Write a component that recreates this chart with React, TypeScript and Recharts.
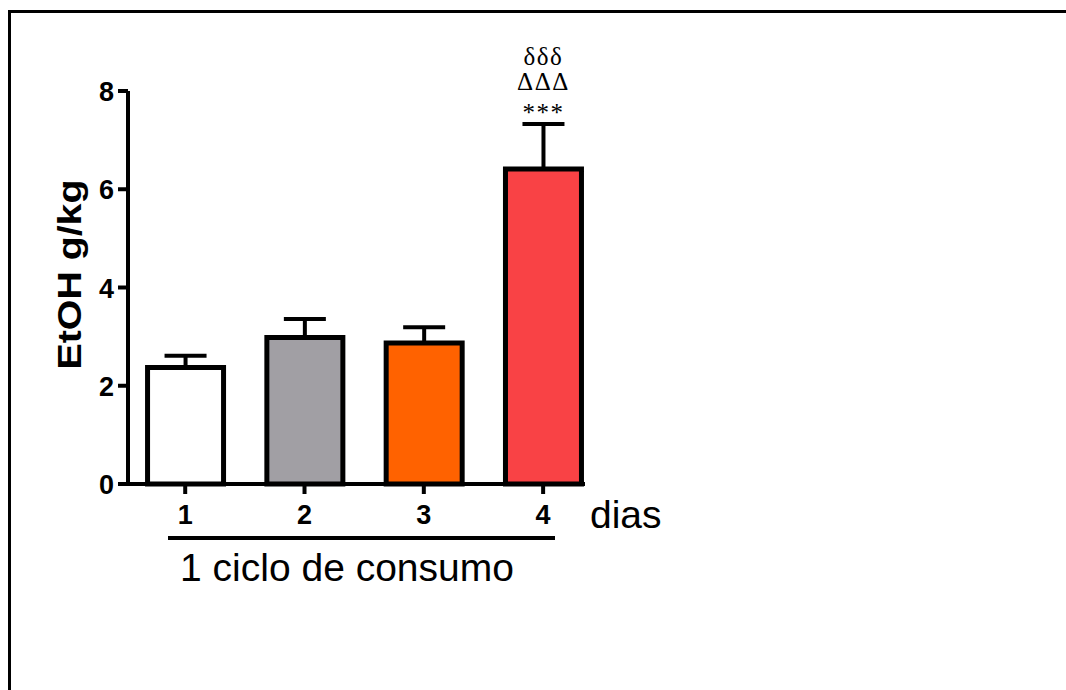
import { Bar, Cell, ComposedChart, ErrorBar, LabelList, XAxis, YAxis } from "recharts";

// Days of the drinking cycle and EtOH intake (mean, upper SEM)
const days = [1, 2, 3, 4];
const etohMean = [2.37, 2.98, 2.87, 6.41];
const etohSem = [0.24, 0.38, 0.32, 0.92];
const yTicks = [0, 2, 4, 6, 8];
// Significance marks stacked above each bar, bottom line first
const signif: string[][] = [[], [], [], ["***", "ΔΔΔ", "δδδ"]];

const BAR_COLORS = ["#ffffff", "#a19fa4", "#ff6200", "#f94245"];
const SIGNIF_GAP = [3, 34, 59]; // baseline distance above the SEM cap, per line
const SANS = "'Liberation Sans', Arial, sans-serif";
const SERIF = "'Liberation Serif', 'Times New Roman', serif";

const data = days.map((d, i) => ({
  day: d,
  etoh: etohMean[i],
  err: [0, etohSem[i]] as [number, number],
}));

/** Stars/deltas sit on top of the SEM cap. */
function SignifLabel(props: any) {
  const { x, y, width, height, value, index } = props;
  const lines = signif[index] ?? [];
  if (!lines.length || !value) return null;
  const pxPerUnit = height / value;
  const capY = y - etohSem[index] * pxPerUnit;
  const cx = x + width / 2;
  return (
    <g>
      {lines.map((t, k) => (
        <text
          key={k}
          x={cx}
          y={capY - SIGNIF_GAP[k]}
          textAnchor="middle"
          fontFamily={SERIF}
          fontSize={25}
          letterSpacing={1.5}
          fill="#000"
        >
          {t}
        </text>
      ))}
    </g>
  );
}

function XTick(p: any) {
  return (
    <text x={p.x} y={p.y} dy={19} textAnchor="middle" fontFamily={SANS} fontWeight={700} fontSize={27} fill="#000">
      {p.payload.value}
    </text>
  );
}

function YTick(p: any) {
  return (
    <text x={p.x} y={p.y} dy={10} textAnchor="end" fontFamily={SANS} fontWeight={700} fontSize={27} fill="#000">
      {p.payload.value}
    </text>
  );
}

export default function App() {
  return (
    <div style={{ position: "absolute", left: 0, top: 0, width: 1066, height: 690, background: "#fff" }}>
      <ComposedChart
        width={1066}
        height={690}
        data={data}
        margin={{ top: 91, right: 481, bottom: 176, left: 68 }}
      >
        <XAxis
          dataKey="day"
          type="number"
          domain={[0.5205, 4.351]}
          ticks={days}
          allowDataOverflow
          height={30}
          axisLine={{ stroke: "#000", strokeWidth: 4 }}
          tickLine={{ stroke: "#000", strokeWidth: 4 }}
          tickSize={10}
          tickMargin={11}
          tick={<XTick />}
        />
        <YAxis
          domain={[0, 8]}
          ticks={yTicks}
          width={60}
          axisLine={{ stroke: "#000", strokeWidth: 4 }}
          tickLine={{ stroke: "#000", strokeWidth: 4 }}
          tickSize={10}
          tickMargin={4}
          tick={<YTick />}
          label={(p: any) => {
            const vb = p.viewBox;
            const cy = vb.y + vb.height / 2 - 13;
            return (
              <text
                x={81}
                y={cy}
                transform={`rotate(-90, 81, ${cy})`}
                textAnchor="middle"
                fontFamily={SANS}
                fontWeight={700}
                fontSize={33}
                textLength={190}
                lengthAdjust="spacingAndGlyphs"
                fill="#000"
              >
                EtOH g/kg
              </text>
            );
          }}
        />
        <Bar dataKey="etoh" barSize={76} stroke="#000" strokeWidth={5} isAnimationActive={false}>
          {data.map((_, i) => (
            <Cell key={i} fill={BAR_COLORS[i]} />
          ))}
          <ErrorBar dataKey="err" width={21} stroke="#000" strokeWidth={4} isAnimationActive={false} />
          <LabelList dataKey="etoh" content={<SignifLabel />} />
        </Bar>
      </ComposedChart>
      <svg
        width={1066}
        height={690}
        style={{ position: "absolute", left: 0, top: 0, pointerEvents: "none" }}
      >
        <rect x={9.5} y={11.5} width={1100} height={1000} fill="none" stroke="#000" strokeWidth={3} />
        <text x={590} y={528} fontFamily={SANS} fontSize={39} fill="#000">
          dias
        </text>
        <line x1={168} y1={538} x2={555} y2={538} stroke="#000" strokeWidth={4} />
        <text x={347} y={581} textAnchor="middle" fontFamily={SANS} fontSize={39} fill="#000">
          1 ciclo de consumo
        </text>
      </svg>
    </div>
  );
}
